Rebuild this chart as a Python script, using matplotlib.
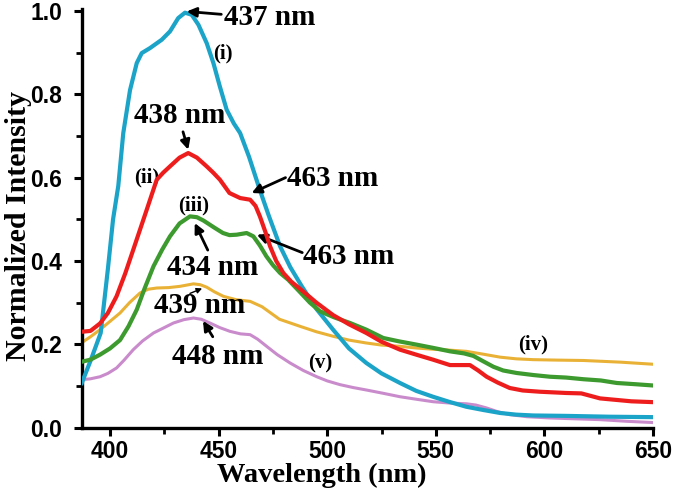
import matplotlib
matplotlib.use("Agg")
import matplotlib.pyplot as plt

# (i) cyan
wl_i = [387, 391, 395.7, 399, 401.4, 403.8, 406.1, 409.2, 412.3, 414.6, 418.4, 423.8, 427.6,
        431.4, 434.5, 437.6, 440.7, 444.5, 447.6, 450.5, 453.7, 457, 459.9, 464, 469, 473,
        478.3, 483, 488.3, 495, 502.7, 510, 518, 525, 533.5, 541, 548.7, 556, 564, 572,
        579.6, 587, 594.8, 610, 630, 650]
int_i = [0.107, 0.16, 0.227, 0.38, 0.50, 0.58, 0.707, 0.81, 0.875, 0.899, 0.911, 0.931, 0.951,
         0.983, 0.996, 0.991, 0.967, 0.923, 0.875, 0.82, 0.763, 0.73, 0.707, 0.65, 0.57, 0.51,
         0.435, 0.385, 0.339, 0.285, 0.235, 0.19, 0.155, 0.13, 0.107, 0.088, 0.074, 0.062,
         0.05, 0.042, 0.035, 0.031, 0.029, 0.028, 0.026, 0.025]
# (ii) red
wl_ii = [387, 391, 395.4, 399, 403, 407, 410.7, 413.8, 416.9, 421.5, 424.5, 427.6, 432, 436,
         440, 444.5, 447.5, 450.6, 455, 459.9, 464.5, 467, 469, 471.5, 473.7, 476.5, 479.8,
         483.5, 487.5, 495, 502.7, 510, 518, 525, 533.5, 541, 548.7, 556.5, 565.7, 569.5,
         573.4, 578.5, 584, 590, 597.9, 610, 617, 625.6, 640, 650]
int_ii = [0.23, 0.232, 0.25, 0.275, 0.315, 0.37, 0.427, 0.475, 0.523, 0.595, 0.612, 0.627,
          0.648, 0.659, 0.648, 0.627, 0.612, 0.595, 0.563, 0.551, 0.547, 0.532, 0.507, 0.47,
          0.435, 0.40, 0.371, 0.35, 0.333, 0.30, 0.27, 0.248, 0.227, 0.206, 0.187, 0.175,
          0.163, 0.15, 0.15, 0.137, 0.122, 0.108, 0.095, 0.089, 0.086, 0.083, 0.082, 0.07,
          0.063, 0.061]
# (iii) green
wl_iii = [387, 391, 395.4, 400, 404.6, 408.5, 412.3, 416, 420, 424, 427.6, 432, 436.8, 440,
          443, 448, 452, 455, 458.3, 462.9, 466, 469, 472, 475, 478.3, 482, 487.5, 492,
          496.7, 503, 510.5, 518, 525.8, 533, 541.2, 549, 556.5, 563, 567.3, 571.5, 576.5,
          581, 587.2, 595, 602.6, 610, 618, 626, 633.3, 642, 650]
int_iii = [0.158, 0.163, 0.175, 0.19, 0.21, 0.243, 0.283, 0.335, 0.387, 0.427, 0.459, 0.49,
           0.507, 0.505, 0.497, 0.48, 0.467, 0.462, 0.463, 0.467, 0.459, 0.437, 0.411, 0.39,
           0.371, 0.355, 0.325, 0.3, 0.279, 0.265, 0.251, 0.235, 0.215, 0.207, 0.199, 0.191,
           0.183, 0.178, 0.172, 0.16, 0.146, 0.137, 0.131, 0.126, 0.122, 0.12, 0.116, 0.113,
           0.107, 0.104, 0.101]
# (iv) orange
wl_iv = [387, 391, 395.4, 400, 404.6, 409, 413.8, 417.5, 421.5, 427, 432.2, 438.4, 441.5,
         444.5, 448, 452.2, 458, 464.5, 470, 478, 487.5, 495, 502.8, 510, 518, 525, 533.5,
         541, 548.8, 556, 564, 572, 579.6, 587, 594.9, 605, 618, 635, 650]
int_iv = [0.204, 0.218, 0.235, 0.255, 0.275, 0.3, 0.323, 0.332, 0.335, 0.336, 0.339, 0.345,
          0.343, 0.337, 0.326, 0.315, 0.307, 0.303, 0.29, 0.26, 0.243, 0.23, 0.219, 0.21,
          0.203, 0.198, 0.195, 0.191, 0.188, 0.186, 0.183, 0.176, 0.169, 0.165, 0.163, 0.162,
          0.161, 0.157, 0.152]
# (v) purple
wl_v = [387, 391, 395.4, 399, 403, 406.5, 410.7, 415, 420, 425, 429.2, 434, 438.4, 442,
        446, 450.5, 455.2, 460, 464.5, 468, 472.1, 477, 482.9, 489, 495.2, 500, 505.9, 512,
        518.2, 526, 533.5, 541, 548.8, 556, 564.2, 568.5, 573.4, 578.5, 584, 592, 602.6,
        614, 625.6, 638, 650]
int_v = [0.115, 0.117, 0.122, 0.13, 0.143, 0.162, 0.187, 0.208, 0.227, 0.24, 0.251, 0.259,
         0.263, 0.26, 0.251, 0.24, 0.231, 0.225, 0.223, 0.212, 0.195, 0.175, 0.155, 0.137,
         0.122, 0.112, 0.103, 0.096, 0.09, 0.082, 0.074, 0.068, 0.062, 0.059, 0.057, 0.054,
         0.047, 0.038, 0.031, 0.026, 0.023, 0.021, 0.019, 0.015, 0.012]

x_ticks = [400, 450, 500, 550, 600, 650]
y_ticks = [0.0, 0.2, 0.4, 0.6, 0.8, 1.0]

SERIF = "Liberation Serif"
SANS = "Liberation Sans"

fig = plt.figure(figsize=(6.76, 4.96), dpi=100)
ax = fig.add_axes([0.121, 0.138, 0.845, 0.844])

ax.plot(wl_i, int_i, color="#1ca3c8", lw=3.0, solid_joinstyle="round", zorder=3)
ax.plot(wl_ii, int_ii, color="#ee1d1d", lw=3.0, solid_joinstyle="round", zorder=4)
ax.plot(wl_iii, int_iii, color="#3c9a2e", lw=3.0, solid_joinstyle="round", zorder=3)
ax.plot(wl_iv, int_iv, color="#e9b236", lw=2.2, solid_joinstyle="round", zorder=2)
ax.plot(wl_v, int_v, color="#c98bcb", lw=2.2, solid_joinstyle="round", zorder=2)

ax.set_xlim(387, 650)
ax.set_ylim(0, 1.005)
ax.set_xticks(x_ticks)
ax.set_yticks(y_ticks)
ax.set_xticks([425, 475, 525, 575, 625], minor=True)
ax.set_yticks([0.1, 0.3, 0.5, 0.7, 0.9], minor=True)
ax.set_xticklabels([str(v) for v in x_ticks])
ax.set_yticklabels([f"{v:.1f}" for v in y_ticks])
for s in ["top", "right"]:
    ax.spines[s].set_visible(False)
for s in ["left", "bottom"]:
    ax.spines[s].set_linewidth(2.4)
ax.tick_params(which="major", direction="out", length=6, width=2.2)
ax.tick_params(which="minor", direction="out", length=4, width=2.0)
ax.tick_params(axis="x", which="major", pad=3)
ax.tick_params(axis="y", which="major", pad=8)
for lab in ax.get_xticklabels() + ax.get_yticklabels():
    lab.set_fontfamily(SANS)
    lab.set_fontweight("bold")
    lab.set_fontsize(16.5)

ax.set_xlabel("Wavelength (nm)", fontfamily=SERIF, fontweight="bold", fontsize=20.5)
ax.xaxis.set_label_coords(0.42, -0.084)
ax.set_ylabel("Normalized Intensity", fontfamily=SERIF, fontweight="bold", fontsize=21.5)
ax.yaxis.set_label_coords(-0.088, 0.482)

big = dict(fontfamily=SERIF, fontweight="bold", fontsize=21, color="black")
small = dict(fontfamily=SERIF, fontweight="bold", fontsize=15, color="black")
arr = dict(arrowstyle="-|>", color="black", lw=2.0, mutation_scale=14, shrinkA=0, shrinkB=0)

ax.annotate("437 nm", xy=(435.3, 0.999), xytext=(452.5, 0.985), va="center", ha="left",
            arrowprops=dict(arr, relpos=(0.0, 0.6)), **big)
ax.annotate("", xy=(436, 0.667), xytext=(433.6, 0.71), arrowprops=arr)
ax.text(432.2, 0.748, "438 nm", va="center", ha="center", **big)
ax.annotate("", xy=(465.2, 0.563), xytext=(480.8, 0.6), arrowprops=arr)
ax.text(481.5, 0.598, "463 nm", va="center", ha="left", **big)
ax.annotate("", xy=(467.6, 0.463), xytext=(488.5, 0.42), arrowprops=arr)
ax.text(488.9, 0.41, "463 nm", va="center", ha="left", **big)
ax.annotate("", xy=(439, 0.491), xytext=(445, 0.426), arrowprops=arr)
ax.text(447.2, 0.385, "434 nm", va="center", ha="center", **big)
ax.annotate("", xy=(442.4, 0.334), xytext=(436.8, 0.322),
            arrowprops=dict(arr, lw=1.0, mutation_scale=8))
ax.text(441.2, 0.292, "439 nm", va="center", ha="center", **big)
ax.annotate("", xy=(442.8, 0.256), xytext=(447.3, 0.218), arrowprops=arr)
ax.text(449.5, 0.171, "448 nm", va="center", ha="center", **big)

ax.text(452, 0.899, "(i)", va="center", ha="center", **small)
ax.text(416.9, 0.6, "(ii)", va="center", ha="center", **small)
ax.text(438.4, 0.532, "(iii)", va="center", ha="center", **small)
ax.text(594.8, 0.199, "(iv)", va="center", ha="center", **small)
ax.text(496.7, 0.155, "(v)", va="center", ha="center", **small)

fig.savefig("out.png", dpi=100)
